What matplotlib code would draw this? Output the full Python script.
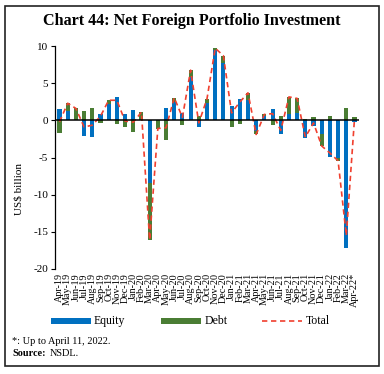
import matplotlib
matplotlib.use("Agg")
import matplotlib.pyplot as plt
import numpy as np
from matplotlib.patches import Rectangle
from matplotlib.lines import Line2D

plt.rcParams['font.family'] = ['Liberation Serif', 'DejaVu Serif']

months = ["Apr-19", "May-19", "Jun-19", "Jul-19", "Aug-19", "Sep-19", "Oct-19", "Nov-19",
          "Dec-19", "Jan-20", "Feb-20", "Mar-20", "Apr-20", "May-20", "Jun-20", "Jul-20",
          "Aug-20", "Sep-20", "Oct-20", "Nov-20", "Dec-20", "Jan-21", "Feb-21", "Mar-21",
          "Apr-21", "May-21", "Jun-21", "Jul-21", "Aug-21", "Sep-21", "Oct-21", "Nov-21",
          "Dec-21", "Jan-22", "Feb-22", "Mar-22", "Apr-22*"]
equity = [1.5, 1.3, 0.0, -2.1, -2.25, 0.9, 2.2, 3.15, 0.8, 1.35, 0.1, -8.4, 0.0, 1.6, 2.5, 1.0,
          5.85, -0.9, 2.35, 9.45, 7.65, 1.9, 2.9, 2.8, -1.5, 0.6, 1.5, -1.9, 0.9, 1.0, -2.4, -0.75,
          -1.8, -4.95, -5.1, -17.2, -0.2]
debt = [-1.7, 1.0, 1.6, 1.2, 1.6, -0.35, 0.5, -0.45, -0.9, -1.6, 1.0, -7.7, -1.1, -2.6, 0.55, -0.6,
        0.9, 0.55, 0.55, 0.25, 1.05, -0.9, -0.45, 0.9, -0.4, 0.2, -0.6, 0.55, 2.25, 1.95, 0.15, 0.4,
        -1.65, 0.55, -0.35, 1.7, 0.4]
yticks = [-20, -15, -10, -5, 0, 5, 10]

equity = np.array(equity)
debt = np.array(debt)
total = equity + debt
x = np.arange(len(months))

W, H = 384, 374
fig = plt.figure(figsize=(W / 100, H / 100), dpi=100)
fig.patches.append(Rectangle((5/W, 1 - 366/H), 374/W, 360/H, transform=fig.transFigure,
                             fill=False, edgecolor='#222222', linewidth=1.2))

ax = fig.add_axes([55/W, 1 - 269/H, 304/W, 223/H])

blue = '#0070C0'
green = '#4A7D34'
red = '#F0402F'
dash = (0, (3.2, 2.2))
w = 0.5

ax.bar(x, equity, width=w, color=blue, zorder=2)
same_sign = (debt >= 0) == (equity >= 0)
dbase = np.where(same_sign, equity, 0)
ax.bar(x, debt, width=w, bottom=dbase, color=green, zorder=2)
ax.plot(x, total, color=red, linestyle=dash, linewidth=1.2, zorder=3)
ax.axhline(0, color='black', linewidth=1.1, zorder=4)

ax.set_xlim(-0.55, 36.55)
ax.set_ylim(-20, 10)
ax.set_yticks(yticks)
ax.set_yticklabels([str(t) for t in yticks], fontsize=8)
ax.tick_params(axis='y', length=3, width=0.8, pad=2)
ax.set_xticks(x)
ax.set_xticklabels(months, rotation=90, fontsize=7.3)
ax.tick_params(axis='x', length=0, pad=3)
for s in ['top', 'right', 'bottom']:
    ax.spines[s].set_visible(False)
ax.spines['left'].set_linewidth(0.9)
ax.set_ylabel('US$ billion', fontsize=8)
ax.yaxis.set_label_coords(-0.105, 0.36)

fig.text(0.5, 1 - 21/H, 'Chart 44: Net Foreign Portfolio Investment', ha='center', va='center',
         fontsize=11.6, fontweight='bold')

# legend drawn in figure pixels
ly = 321
fig.patches.append(Rectangle((51/W, 1 - 324/H), 40/W, 6/H, transform=fig.transFigure,
                             facecolor=blue, edgecolor='none'))
fig.text(94/W, 1 - ly/H, 'Equity', fontsize=8.5, va='center')
fig.patches.append(Rectangle((161/W, 1 - 324/H), 40/W, 6/H, transform=fig.transFigure,
                             facecolor=green, edgecolor='none'))
fig.text(205/W, 1 - ly/H, 'Debt', fontsize=8.5, va='center')
fig.lines.append(Line2D([262/W, 302/W], [1 - ly/H, 1 - ly/H], transform=fig.transFigure,
                        color=red, linestyle=dash, linewidth=1.2))
fig.text(306/W, 1 - ly/H, 'Total', fontsize=8.5, va='center')

fig.text(12/W, 1 - 341/H, '*: Up to April 11, 2022.', fontsize=7.4, va='center')
fig.text(12/W, 1 - 354/H, 'Source:', fontsize=7.4, va='center', fontweight='bold')
fig.text(50/W, 1 - 354/H, 'NSDL.', fontsize=7.4, va='center')

fig.savefig('out.png', dpi=100)
